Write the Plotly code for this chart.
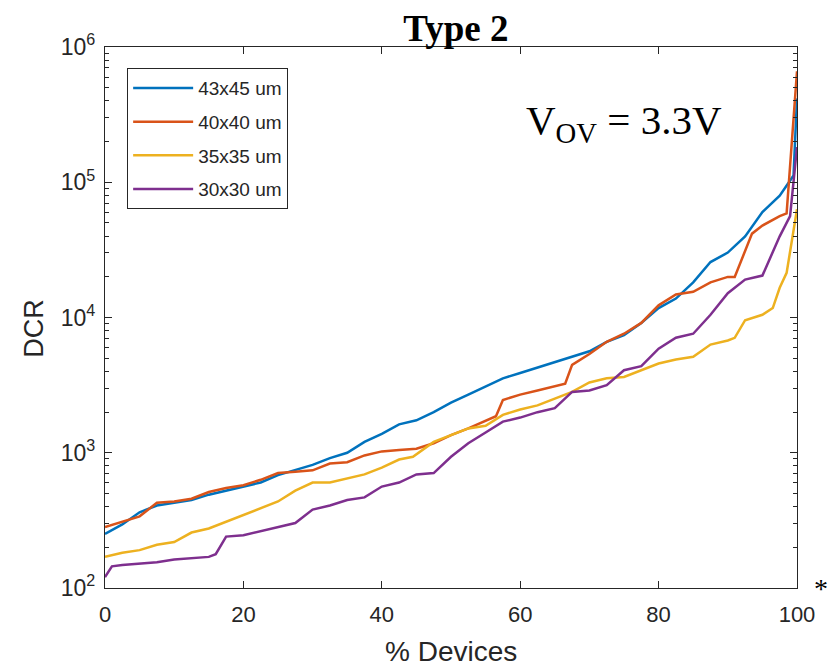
import plotly.graph_objects as go

# % Devices positions and log10(DCR) readings for each device size
x_blue = [0, 2.5, 5, 7.5, 10, 12.5, 15, 17.5, 20, 22.5, 25, 27.5, 30, 32.5, 35, 37.5, 40, 42.5, 45, 47.5,
          50, 52.5, 55, 57.5, 60, 62.5, 65, 67.5, 70, 72.5, 75, 77.5, 80, 82.5, 85, 87.5, 90, 92.5, 95, 97.5, 99.5, 100]
logy_blue = [2.40, 2.47, 2.56, 2.61, 2.63, 2.65, 2.69, 2.72, 2.75, 2.78, 2.835, 2.87, 2.91, 2.96, 3.00, 3.08, 3.14, 3.21, 3.24, 3.30,
             3.37, 3.43, 3.49, 3.55, 3.59, 3.63, 3.67, 3.71, 3.75, 3.82, 3.87, 3.96, 4.07, 4.14, 4.26, 4.41, 4.48, 4.60, 4.78, 4.90, 5.05, 5.62]

x_orange = [0, 2.5, 5, 7.5, 10, 12.5, 15, 17.5, 20, 22.5, 25, 27.5, 30, 32.5, 35, 37.5, 40, 42.5, 45, 47.5,
            50, 52.5, 55, 56.5, 57.5, 60, 62.5, 65, 66.5, 67.5, 70, 72.5, 75, 77.5, 80, 82.5, 85, 87.5, 90, 91, 93.5, 95, 97.5, 98.5, 100]
logy_orange = [2.45, 2.49, 2.53, 2.63, 2.64, 2.66, 2.71, 2.74, 2.76, 2.80, 2.85, 2.86, 2.87, 2.92, 2.93, 2.98, 3.01, 3.02, 3.03, 3.07,
               3.13, 3.18, 3.24, 3.27, 3.39, 3.43, 3.46, 3.49, 3.51, 3.65, 3.73, 3.82, 3.88, 3.96, 4.09, 4.17, 4.19, 4.26, 4.30, 4.30, 4.62, 4.68, 4.75, 4.77, 5.82]

x_yellow = [0, 2.5, 5, 7.5, 10, 12.5, 15, 17.5, 20, 22.5, 25, 27.5, 30, 32.5, 35, 37.5, 40, 42.5, 44.5, 47.5,
            50, 52.5, 55, 57.5, 60, 62.5, 65, 67.5, 70, 72.5, 75, 77.5, 80, 82.5, 85, 87.5, 90, 91, 92.5, 95, 96.5, 97.5, 98.5, 100]
logy_yellow = [2.23, 2.26, 2.28, 2.32, 2.34, 2.41, 2.44, 2.49, 2.54, 2.59, 2.64, 2.72, 2.78, 2.78, 2.81, 2.84, 2.89, 2.95, 2.97, 3.08,
               3.13, 3.18, 3.20, 3.28, 3.32, 3.35, 3.40, 3.45, 3.52, 3.55, 3.56, 3.61, 3.66, 3.69, 3.71, 3.80, 3.83, 3.85, 3.98, 4.02, 4.07, 4.22, 4.33, 4.80]

x_purple = [0, 1, 2.5, 5, 7.5, 10, 12.5, 15, 16, 17.5, 20, 22.5, 25, 27.5, 30, 32.5, 35, 37.5, 40, 42.5, 45, 47.5,
            50, 52.5, 55, 57.5, 60, 62.5, 65, 67.5, 70, 72.5, 75, 77.5, 80, 82.5, 85, 87.5, 90, 92.5, 95, 97.5, 99, 100]
logy_purple = [2.08, 2.16, 2.17, 2.18, 2.19, 2.21, 2.22, 2.23, 2.25, 2.38, 2.39, 2.42, 2.45, 2.48, 2.58, 2.61, 2.65, 2.67, 2.75, 2.78, 2.84, 2.85,
               2.97, 3.07, 3.15, 3.23, 3.26, 3.30, 3.33, 3.45, 3.46, 3.50, 3.61, 3.64, 3.77, 3.85, 3.88, 4.02, 4.18, 4.28, 4.31, 4.60, 4.75, 5.26]

series = [
    ("43x45 um", x_blue, logy_blue, "#0072BD"),
    ("40x40 um", x_orange, logy_orange, "#D95319"),
    ("35x35 um", x_yellow, logy_yellow, "#EDB120"),
    ("30x30 um", x_purple, logy_purple, "#7E2F8E"),
]

x_ticks = [0, 20, 40, 60, 80, 100]
y_tickvals = [1e2, 1e3, 1e4, 1e5, 1e6]
y_ticktext = ["10<sup>2</sup>", "10<sup>3</sup>", "10<sup>4</sup>", "10<sup>5</sup>", "10<sup>6</sup>"]
y_minor = [m * 10 ** e for e in range(2, 6) for m in range(2, 10)]

fig = go.Figure()
for i, (name, xs, ly, col) in enumerate(series):
    fig.add_trace(go.Scatter(x=xs, y=[10 ** v for v in ly], mode="lines", name=name,
                             legendgroup=f"g{i}",
                             line=dict(color=col, width=2.5)))

axcol = "#262626"
fig.update_layout(
    width=829, height=666,
    margin=dict(l=105, r=32, t=47, b=78),
    plot_bgcolor="white", paper_bgcolor="white",
    showlegend=True,
    legend=dict(x=0.032, y=0.961, xanchor="left", yanchor="top",
                bgcolor="white", bordercolor=axcol, borderwidth=1,
                font=dict(family="Liberation Sans, Arial", size=19, color=axcol),
                tracegroupgap=6, itemwidth=60),
    title=dict(text="<b>Type 2</b>", x=0.55, xanchor="center", y=0.958, yanchor="middle",
               font=dict(family="Liberation Serif, Times New Roman", size=37, color="black")),
)
fig.update_xaxes(range=[0, 100], tickvals=x_ticks, ticks="inside", ticklen=7, tickcolor=axcol,
                 showline=True, linecolor=axcol, linewidth=1.3, mirror="ticks", showgrid=False,
                 zeroline=False, ticklabelstandoff=6,
                 tickfont=dict(family="Liberation Sans, Arial", size=22, color=axcol))
fig.update_yaxes(type="log", range=[2, 6], tickvals=y_tickvals, ticktext=y_ticktext,
                 ticks="inside", ticklen=7, tickcolor=axcol,
                 showline=True, linecolor=axcol, linewidth=1.3, mirror="ticks", showgrid=False,
                 zeroline=False, ticklabelstandoff=4,
                 minor=dict(tickvals=y_minor, ticks="inside", ticklen=4, tickcolor=axcol, showgrid=False),
                 tickfont=dict(family="Liberation Sans, Arial", size=23, color=axcol))

fig.add_annotation(text="DCR", xref="paper", yref="paper", x=-0.102, y=0.48, textangle=-90,
                   showarrow=False, xanchor="center", yanchor="middle",
                   font=dict(family="Liberation Sans, Arial", size=27, color=axcol))
fig.add_annotation(text="% Devices", xref="paper", yref="paper", x=0.5, y=-0.118,
                   showarrow=False, xanchor="center", yanchor="middle",
                   font=dict(family="Liberation Sans, Arial", size=28, color=axcol))
fig.add_annotation(text="V<sub>OV</sub> = 3.3V", xref="paper", yref="paper", x=0.605, y=0.86,
                   showarrow=False, xanchor="left", yanchor="middle",
                   font=dict(family="Liberation Serif, Times New Roman", size=41, color="black"))
fig.add_annotation(text="*", xref="paper", yref="paper", x=1.035, y=0.0,
                   showarrow=False, xanchor="center", yanchor="middle",
                   font=dict(family="Liberation Serif, Times New Roman", size=28, color="black"))

fig.write_html("out.html")
